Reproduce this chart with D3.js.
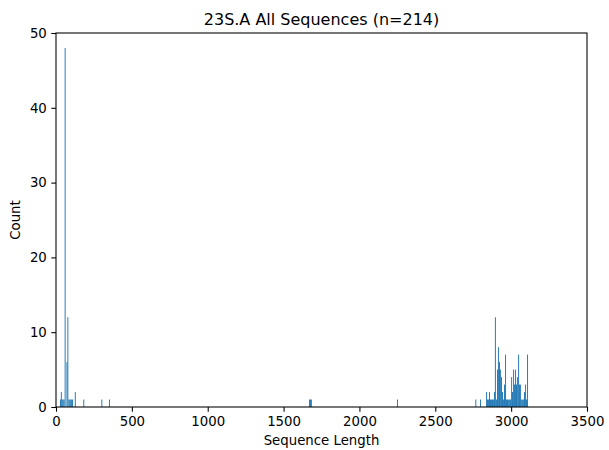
<!DOCTYPE html>
<html>
<head>
  <meta charset="utf-8">
  <script src="https://d3js.org/d3.v7.min.js"></script>
  <style>
    body { margin: 0; background: #fff; }
    text { font-family: "DejaVu Sans", sans-serif; fill: #000; }
  </style>
  <script type="text/javascript">
    // bin start (sequence length) and count for each histogram bar
    var binStarts = [
      26, 32, 38, 44, 50, 57, 69, 75, 82, 88, 94, 100, 106, 124, 180, 299, 349,
      1668, 1674, 1680, 2248,
      2764, 2795, 2835, 2841, 2848, 2854, 2861, 2867, 2874, 2880, 2887, 2893,
      2900, 2907, 2913, 2920, 2926, 2933, 2940, 2946, 2953, 2960, 2966, 2973,
      2980, 2987, 2993, 3000, 3006, 3013, 3019, 3026, 3032, 3038, 3046, 3052,
      3058, 3064, 3071, 3079, 3085, 3092, 3098, 3105
    ];
    var binCounts = [
      1, 2, 1, 1, 1, 48, 6, 12, 1, 1, 1, 1, 1, 2, 1, 1, 1,
      1, 1, 1, 1,
      1, 1, 2, 1, 1, 2, 1, 1, 1, 1, 2, 12,
      1, 5, 8, 6, 5, 4, 2, 1, 3, 7, 1, 1,
      1, 1, 1, 4, 2, 5, 3, 5, 3, 4, 7, 3,
      3, 1, 1, 1, 2, 3, 1, 7
    ];
    var binWidth = 6;
    var xTicks = [0, 500, 1000, 1500, 2000, 2500, 3000, 3500];
    var yTicks = [0, 10, 20, 30, 40, 50];
    var title = "23S.A All Sequences (n=214)";
    var xLabel = "Sequence Length";
    var yLabel = "Count";

    function draw() {
      "use strict";
      var W = 609, H = 450;
      var left = 56, right = 587, top = 33, bottom = 407;

      var svg = d3.select("body").append("svg")
          .attr("width", W)
          .attr("height", H);

      var x = d3.scaleLinear().domain([0, 3500]).range([left, right]);
      var y = d3.scaleLinear().domain([0, 50]).range([bottom, top]);

      var data = binStarts.map(function (d, i) { return { x: d, n: binCounts[i] }; });

      // bars
      svg.append("g").selectAll("rect")
          .data(data)
          .enter()
          .append("rect")
            .attr("x", function (d) { return x(d.x); })
            .attr("y", function (d) { return y(d.n); })
            .attr("width", function (d) { return Math.max(0.95, x(d.x + binWidth) - x(d.x)); })
            .attr("height", function (d) { return y(0) - y(d.n); })
            .style("fill", "#1f77b4");

      // axes
      var xAxis = d3.axisBottom(x).tickValues(xTicks).tickFormat(d3.format("d"))
          .tickSize(4.7).tickPadding(4.5);
      var yAxis = d3.axisLeft(y).tickValues(yTicks).tickFormat(d3.format("d"))
          .tickSize(4.7).tickPadding(4.5);

      var gx = svg.append("g")
          .attr("transform", "translate(0," + bottom + ")")
          .call(xAxis);
      var gy = svg.append("g")
          .attr("transform", "translate(" + left + ",0)")
          .call(yAxis);
      [gx, gy].forEach(function (g) {
        g.select(".domain").remove();
        g.selectAll("line").style("stroke", "#000").style("stroke-width", 1.07);
        g.selectAll("text").style("font-size", "13.3px").style("font-family", "DejaVu Sans");
      });

      // frame
      svg.append("rect")
          .attr("x", left)
          .attr("y", top)
          .attr("width", right - left)
          .attr("height", bottom - top)
          .style("fill", "none")
          .style("stroke", "#000")
          .style("stroke-width", 1.07);

      svg.append("text")
          .attr("x", (left + right) / 2)
          .attr("y", top - 8)
          .attr("text-anchor", "middle")
          .style("font-size", "16px")
          .text(title);

      svg.append("text")
          .attr("x", (left + right) / 2)
          .attr("y", 445)
          .attr("text-anchor", "middle")
          .style("font-size", "13.3px")
          .text(xLabel);

      svg.append("text")
          .attr("transform", "translate(20," + ((top + bottom) / 2) + ") rotate(-90)")
          .attr("text-anchor", "middle")
          .style("font-size", "13.3px")
          .text(yLabel);
    }
  </script>
</head>
<body>
  <script type="text/javascript">
    draw();
  </script>
</body>
</html>
